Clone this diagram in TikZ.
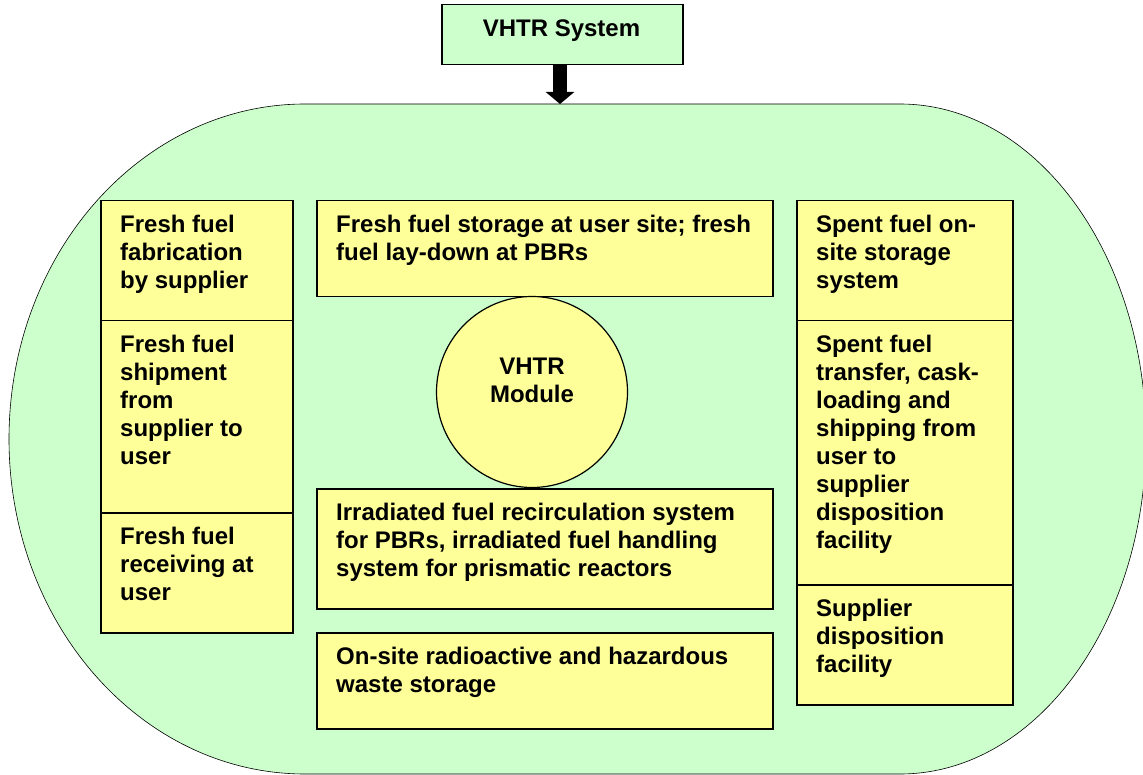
\documentclass[tikz,border=0pt]{standalone}
\usepackage{fontspec}
\setmainfont{Liberation Sans}
\usetikzlibrary{arrows.meta}
\definecolor{bggreen}{HTML}{CCFFCC}
\definecolor{boxyellow}{HTML}{FFFF99}
\tikzset{
  box/.style={draw=black, line width=1.5pt, fill=boxyellow, anchor=north west, inner sep=0pt},
  txt/.style={anchor=north west, align=left, inner sep=0pt, font=\fontsize{24}{28}\selectfont\bfseries},
  ctxt/.style={align=center, inner sep=0pt, font=\fontsize{24}{28}\selectfont\bfseries},
}
\newcommand{\mybox}[6]{% name, x, y, w, h, text
  \node[box, minimum width=#4pt, minimum height=#5pt] (#1) at (#2,#3) {};
  \node[txt] (#1t) at ([xshift=20pt,yshift=-14.5pt]#1.north west) {#6};
}
\begin{document}
\begin{tikzpicture}[x=1pt,y=-1pt]
\useasboundingbox (0,0) rectangle (1143,775);
\clip (0,0) rectangle (1143,775);
% big rounded area
\draw[fill=bggreen, draw=black, line width=0.6pt]
  (305,104) arc[start angle=90, end angle=270, x radius=296pt, y radius=335pt]
  -- (900,774) arc[start angle=-90, end angle=90, x radius=246pt, y radius=335pt]
  -- cycle;
\coordinate (stadtop) at (560,104);
% top box
\node[draw=black, line width=1.5pt, fill=bggreen, anchor=north west, inner sep=0pt,
      minimum width=241pt, minimum height=60pt] (sys) at (441,4) {};
\node[ctxt, anchor=base] (syst) at (561.5,37) {VHTR System};
\draw[line width=14pt, -{Triangle[width=28pt,length=12pt]}] (sys.south -| stadtop) -- (stadtop);
% left column
\mybox{l1}{100}{200}{192}{120}{Fresh fuel\\fabrication\\by supplier}
\mybox{l2}{100}{320}{192}{192}{Fresh fuel\\shipment\\from\\supplier to\\user}
\mybox{l3}{100}{512}{192}{120}{Fresh fuel\\receiving at\\user}
% centre column
\mybox{c1}{316}{200}{456}{96}{Fresh fuel storage at user site; fresh\\fuel lay-down at PBRs}
\mybox{c3}{316}{488}{456}{120}{Irradiated fuel recirculation system\\for PBRs, irradiated fuel handling\\system for prismatic reactors}
\mybox{c4}{316}{632}{456}{96}{On-site radioactive and hazardous\\waste storage}
\node[circle, draw=black, line width=1.2pt, fill=boxyellow, minimum size=191pt, inner sep=0pt] (mod) at (532,392) {};
\node[ctxt, anchor=north] (modt) at (532,357.8) {VHTR\\Module};
% right column
\mybox{r1}{796}{200}{216}{120}{Spent fuel on-\\site storage\\system}
\mybox{r2}{796}{320}{216}{264}{Spent fuel\\transfer, cask-\\loading and\\shipping from\\user to\\supplier\\disposition\\facility}
\mybox{r3}{796}{584}{216}{120}{Supplier\\disposition\\facility}
\end{tikzpicture}
\end{document}
